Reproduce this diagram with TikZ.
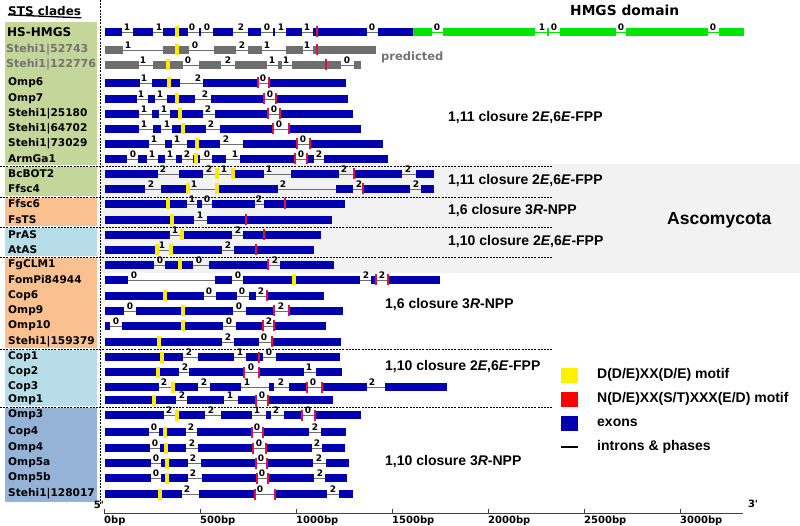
\documentclass[tikz,border=0pt]{standalone}
\usepackage{fontspec}
\setmainfont{DejaVu Sans}
\newfontfamily\lib{Liberation Sans}
\definecolor{exblue}{RGB}{0,0,175}
\definecolor{exgray}{RGB}{110,110,110}
\definecolor{exgreen}{RGB}{0,230,0}
\definecolor{motY}{RGB}{255,235,0}
\definecolor{motR}{RGB}{220,20,60}
\definecolor{boxgreen}{RGB}{196,215,155}
\definecolor{boxorange}{RGB}{250,192,144}
\definecolor{boxlblue}{RGB}{183,222,232}
\definecolor{boxblue}{RGB}{149,179,215}
\definecolor{bandgray}{RGB}{242,242,242}
\definecolor{txtgray}{RGB}{115,115,115}
\tikzset{
  intron/.style={draw=exgray, line width=0.7pt},
  phase/.style={font=\bfseries\fontsize{9}{9}\selectfont, inner sep=0pt, anchor=south},
  lab/.style={font=\bfseries\fontsize{10.6}{11}\selectfont, anchor=west, inner sep=0pt},
  clos/.style={font=\lib\bfseries\fontsize{14}{15}\selectfont, anchor=west, inner sep=0pt},
  sep/.style={draw=black, line width=0.6pt, dash pattern=on 2pt off 1.2pt},
  ticklab/.style={font=\bfseries\fontsize{10}{10}\selectfont, anchor=north west, inner sep=0pt},
}
% #1 y, #2 xstart, #3 xend, #4 exon colour, #5 exons, #6 phases, #7 yellow, #8 red
\newcommand\generow[8]{%
  \draw[intron] (#2,#1) -- (#3,#1);
  \foreach \a/\b in {#5} {\fill[#4] (\a,#1-4) rectangle (\b,#1+4);}
  \foreach \p/\d in {#6} {\node[phase] (ph-#1-\p) at (\p,#1-1.5) {\d};}
  \foreach \m in {#7} {\fill[motY] (\m-1.6,#1-5.5) rectangle (\m+1.6,#1+5.5);}
  \foreach \m in {#8} {\fill[motR] (\m-0.9,#1-5.5) rectangle (\m+0.9,#1+5.5);}
}
\begin{document}
\begin{tikzpicture}[x=1pt,y=-1pt]
\useasboundingbox (0,0) rectangle (800,526);
% background band
\fill[bandgray] (100,164) rectangle (800,273);
% clade boxes
\fill[boxgreen] (5,22) rectangle (97,165);
\fill[boxgreen] (5,167) rectangle (97,196);
\fill[boxorange] (5,198) rectangle (97,226);
\fill[boxlblue] (5,228) rectangle (97,256);
\fill[boxorange] (5,258) rectangle (97,348);
\fill[boxlblue] (5,350) rectangle (97,406);
\fill[boxblue] (5,408) rectangle (97,502);
% separators
\draw[sep] (100,0) -- (100,505);
\foreach \yy in {166,197,227,257,349,407} {\draw[sep] (0,\yy) -- (553,\yy);}
% headers
\node[font=\bfseries\fontsize{12}{12}\selectfont, anchor=west, inner sep=0pt] (hdr) at (8,11.5) {STS clades};
\draw[line width=1.3pt] (hdr.south west) ++(0,-1.5) -- ([yshift=-1.5pt]hdr.south east);
\node[font=\bfseries\fontsize{13.8}{14}\selectfont, anchor=west, inner sep=0pt] (hmgs) at (570,10) {HMGS domain};
\node[font=\bfseries\fontsize{11.5}{12}\selectfont, text=txtgray, anchor=west, inner sep=0pt] (pred) at (381,57) {predicted};
% row labels
\node[lab, font=\bfseries\fontsize{12}{12}\selectfont] (l1) at (7,32) {HS-HMGS};
\node[lab, font=\bfseries\fontsize{11}{11}\selectfont, text=txtgray] (l2) at (6,50) {Stehi1|52743};
\node[lab, font=\bfseries\fontsize{11}{11}\selectfont, text=txtgray] (l3) at (6,65) {Stehi1|122776};
\node[lab] (l4) at (8,83) {Omp6};
\node[lab] (l5) at (8,99) {Omp7};
\node[lab] (l6) at (8,114) {Stehi1|25180};
\node[lab] (l7) at (8,129) {Stehi1|64702};
\node[lab] (l8) at (8,144) {Stehi1|73029};
\node[lab] (l9) at (8,159) {ArmGa1};
\node[lab] (l10) at (8,174) {BcBOT2};
\node[lab] (l11) at (8,189) {Ffsc4};
\node[lab] (l12) at (8,204) {Ffsc6};
\node[lab] (l13) at (8,220) {FsTS};
\node[lab] (l14) at (8,235) {PrAS};
\node[lab] (l15) at (8,250) {AtAS};
\node[lab] (l16) at (8,265) {FgCLM1};
\node[lab] (l17) at (8,280) {FomPi84944};
\node[lab] (l18) at (8,296) {Cop6};
\node[lab] (l19) at (8,311) {Omp9};
\node[lab] (l20) at (8,326) {Omp10};
\node[lab] (l21) at (8,342) {Stehi1|159379};
\node[lab] (l22) at (8,357) {Cop1};
\node[lab] (l23) at (8,372) {Cop2};
\node[lab] (l24) at (8,387) {Cop3};
\node[lab] (l25) at (8,400) {Omp1};
\node[lab] (l26) at (8,415) {Omp3};
\node[lab] (l27) at (8,432) {Cop4};
\node[lab] (l28) at (8,448) {Omp4};
\node[lab] (l29) at (8,463) {Omp5a};
\node[lab] (l30) at (8,478) {Omp5b};
\node[lab] (l31) at (8,494) {Stehi1|128017};
% gene rows
\generow{32}{105}{413}{exblue}{105/122,133/153,163/188,199/201,213/233,248/261,273/275,286/302,313/367,378/413}{127/1,159/1,192/0,207/0,241/2,267/0,281/1,307/1,372/0}{177}{317}
\draw[draw=exgreen, line width=0.7pt] (413,32) -- (744,32);
\foreach \a/\b in {413/432,443/535,547/549,560/616,626/708,719/744} {\fill[exgreen] (\a,28) rectangle (\b,36);}
\foreach \p/\d in {437/0,542/1,554/0,621/0,713/0} {\node[phase] (gph-\p) at (\p,30.5) {\d};}
\generow{50}{105}{376}{exgray}{105/123,163/189,214/236,248/262,286/303,313/376}{128/1,195/0,242/2,267/1,307/1}{177}{317}
\generow{65}{105}{361}{exgray}{105/139,153/183,199/221,235/267,278/282,292/341,354/361}{143/1,188/0,228/2,272/1,286/1,347/0}{168}{326}
\generow{83}{105}{346}{exblue}{105/140,152/180,203/258,269/346}{144/1,198/2,263/0}{169}{258,269}
\generow{99}{105}{348}{exblue}{105/137,148/155,167/195,211/265,276/348}{141/1,160/1,205/2,270/0}{177}{264,276}
\generow{114}{105}{353}{exblue}{105/139,152/159,170/203,215/268,280/353}{144/1,164/1,208/2,274/0}{180}{268,280}
\generow{129}{105}{361}{exblue}{105/139,153/161,172/206,220/273,289/361}{144/1,167/1,211/2,279/0}{183}{273,289}
\generow{144}{105}{383}{exblue}{105/149,165/172,187/220,243/297,310/383}{154/1,177/1,226/2,303/0}{197}{297,310}
\generow{159}{105}{388}{exblue}{105/127,138/147,158/165,176/182,193/200,212/226,240/295,307/314,324/388}{133/0,152/1,170/1,187/2,207/0,235/1,301/0,319/2}{196}{295,307}
\generow{174}{105}{434}{exblue}{105/158,179/203,216/218,233/264,291/339,354/402,416/434}{163/2,209/2,224/1,269/1,344/2,408/2}{217,233}{354}
\generow{189}{105}{434}{exblue}{105/145,161/189,217/278,336/353,363/410,421/434}{151/2,194/1,283/2,359/2,416/2}{188,217}{363}
\generow{204}{105}{345}{exblue}{105/187,197/202,212/255,264/345}{192/1,207/0,259/2}{168}{285}
\generow{220}{105}{332}{exblue}{105/194,207/332}{200/1}{172}{246}
\generow{235}{105}{321}{exblue}{105/170,182/232,243/321}{175/1,238/2}{182}{264}
\generow{250}{105}{314}{exblue}{105/157,171/222,234/314}{162/1,228/2}{157,171}{256}
\generow{265}{105}{334}{exblue}{105/154,165/193,209/268,280/334}{160/0,199/0,275/2}{180}{268}
\generow{280}{105}{440}{exblue}{105/128,215/232,243/360,371/376,388/440}{134/0,238/0,366/2,382/2}{294}{376,388}
\generow{296}{105}{324}{exblue}{105/204,216/237,249/256,267/324}{209/0,242/0,261/2}{165}{267}
\generow{311}{105}{343}{exblue}{105/124,136/233,246/274,289/343}{130/0,239/0,281/2}{183}{274,289}
\generow{326}{105}{326}{exblue}{105/110,122/223,236/263,274/326}{116/0,229/0,269/2}{183}{263,274}
\generow{342}{105}{341}{exblue}{105/222,234/259,272/341}{228/2,264/0}{159}{272}
\generow{357}{105}{340}{exblue}{105/183,198/234,246/263,276/340}{189/2,240/1,269/0}{162}{259}
\generow{372}{105}{342}{exblue}{105/179,189/244,259/304,316/342}{185/2,251/0,309/1}{158}{244,259}
\generow{387}{105}{447}{exblue}{105/159,173/198,210/241,269/274,289/307,322/367,385/447}{164/2,204/2,247/1,281/2,313/0,372/2}{173}{307,322}
\generow{400}{105}{333}{exblue}{105/176,187/224,238/256,268/333}{182/2,230/1,262/0}{154}{256,268}
\generow{415}{105}{361}{exblue}{105/164,177/205,221/252,266/271,284/302,315/361}{169/2,211/2,257/1,276/2,308/0}{177}{302,315}
\generow{432}{105}{346}{exblue}{105/149,159/186,197/252,263/309,321/346}{154/0,191/2,257/0,315/2}{165}{252,263}
\generow{448}{105}{345}{exblue}{105/150,160/186,198/253,266/312,322/345}{155/0,192/2,259/0,317/2}{166}{253,266}
\generow{463}{105}{349}{exblue}{105/151,161/188,201/256,267/313,326/349}{156/0,193/2,261/0,319/2}{167}{256,267}
\generow{478}{105}{347}{exblue}{105/151,161/188,202/257,268/314,325/347}{156/0,193/2,262/0,320/2}{167}{257,268}
\generow{494}{105}{353}{exblue}{105/182,199/255,275/327,339/353}{187/2,260/0,333/2}{160}{255,275}
% closure labels
\node[clos] (c1) at (448,118) {1,11 closure 2\textit{E},6\textit{E}-FPP};
\node[clos] (c2) at (448,181) {1,11 closure 2\textit{E},6\textit{E}-FPP};
\node[clos] (c3) at (448,211) {1,6 closure 3\textit{R}-NPP};
\node[clos] (c4) at (448,242) {1,10 closure 2\textit{E},6\textit{E}-FPP};
\node[clos] (c5) at (385,305) {1,6 closure 3\textit{R}-NPP};
\node[clos] (c6) at (385,367) {1,10 closure 2\textit{E},6\textit{E}-FPP};
\node[clos] (c7) at (385,462) {1,10 closure 3\textit{R}-NPP};
\node[clos, font=\lib\bfseries\fontsize{17.5}{18}\selectfont] (asco) at (667,220) {Ascomycota};
% legend
\fill[yellow] (561,368) rectangle (578,383);
\fill[red] (561,392) rectangle (578,407);
\fill[exblue] (561,416) rectangle (578,431);
\draw[line width=2pt] (561,447) -- (578,447);
\node[clos] (lg1) at (597,375) {D(D/E)XX(D/E) motif};
\node[clos] (lg2) at (597,399) {N(D/E)XX(S/T)XXX(E/D) motif};
\node[clos] (lg3) at (597,423) {exons};
\node[clos] (lg4) at (597,447) {introns \& phases};
% axis
\draw[draw=black!75, line width=0.8pt] (104,513) -- (743,513);
\foreach \k/\t in {0/0bp,1/500bp,2/1000bp,3/1500bp,4/2000bp,5/2500bp,6/3000bp} {
  \draw[draw=black!75, line width=0.8pt] (104+96*\k,513) -- (104+96*\k,509);
  \node[ticklab] (tk\k) at (104+96*\k,515.5) {\t};
}
\node[font=\bfseries\fontsize{10}{10}\selectfont, inner sep=0pt] (five) at (99,504.5) {5\textquotesingle};
\node[font=\bfseries\fontsize{10}{10}\selectfont, inner sep=0pt] (three) at (753,504) {3\textquotesingle};
\end{tikzpicture}
\end{document}
